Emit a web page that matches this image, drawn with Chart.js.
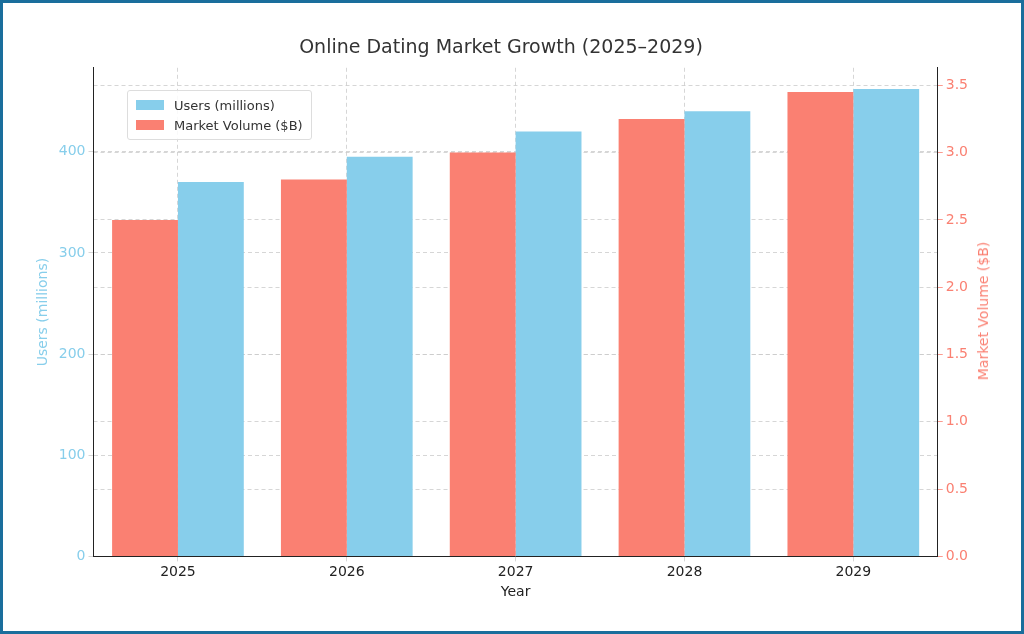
<!DOCTYPE html>
<html><head><script src="https://cdn.jsdelivr.net/npm/chart.js@4"></script>
<style>
html,body{margin:0;padding:0;background:#fff}
#wrap{position:relative;width:1024px;height:634px;box-sizing:border-box;border:3px solid #1a6e9c}
#legend{position:absolute;left:124px;top:87px;border:1px solid #ddd;border-radius:3px;background:rgba(255,255,255,0.85);padding:4px 8px;font:13px "DejaVu Sans";color:#333}
#legend div{display:flex;align-items:center;height:20px}
#legend span{display:inline-block;width:28px;height:10px;margin-right:10px}
#rt{position:absolute;left:980px;top:308px;transform:translate(-50%,-50%) rotate(-90deg);white-space:nowrap;font:14px "DejaVu Sans";color:#fa8072}
</style></head><body>
<div id="wrap"><canvas id="c" width="1018" height="628"></canvas>
<div id="legend"><div><span style="background:#87ceeb"></span>Users (millions)</div><div><span style="background:#fa8072"></span>Market Volume ($B)</div></div>
<div id="rt">Market Volume ($B)</div></div>
<script>
const years=["2025","2026","2027","2028","2029"];
const users=[370,395,420,440,462];
const market=[2.5,2.8,3.0,3.25,3.45];
const grid={color:'#cccccc',lineWidth:0.8,drawTicks:true,tickLength:5};
const trim=s=>{s.ticks=s.ticks.filter(t=>t.value!==s.max);};
new Chart(document.getElementById('c'),{type:'bar',
data:{labels:years,datasets:[
{label:'Market Volume ($B)',data:market,backgroundColor:'#fa8072',yAxisID:'y2',categoryPercentage:0.78,barPercentage:1},
{label:'Users (millions)',data:users,backgroundColor:'#87ceeb',yAxisID:'y',categoryPercentage:0.78,barPercentage:1}]},
options:{responsive:false,animation:false,
layout:{padding:{left:28,right:50,top:10,bottom:30}},
plugins:{legend:{display:false},tooltip:{enabled:false},
title:{display:true,text:'Online Dating Market Growth (2025–2029)',font:{family:'DejaVu Sans',size:19,weight:'normal'},color:'#333',padding:{top:24,bottom:8}}},
scales:{
x:{grid:{...grid,offset:false},border:{color:'#222',dash:[4,3]},ticks:{color:'#222',font:{family:'DejaVu Sans',size:14}},title:{display:true,text:'Year',color:'#222',font:{family:'DejaVu Sans',size:14},padding:0}},
y:{position:'left',min:0,max:483,afterBuildTicks:trim,ticks:{stepSize:100,color:'#87ceeb',font:{family:'DejaVu Sans',size:14}},grid:grid,border:{color:'#222',dash:[4,3]},title:{display:true,text:'Users (millions)',color:'#87ceeb',font:{family:'DejaVu Sans',size:14}}},
y2:{position:'right',min:0,max:3.63,afterBuildTicks:trim,ticks:{stepSize:0.5,color:'#fa8072',font:{family:'DejaVu Sans',size:14},callback:v=>v.toFixed(1)},grid:{...grid,tickColor:'#fa8072'},border:{color:'#222',dash:[4,3]},title:{display:false}}
}}});
</script></body></html>
